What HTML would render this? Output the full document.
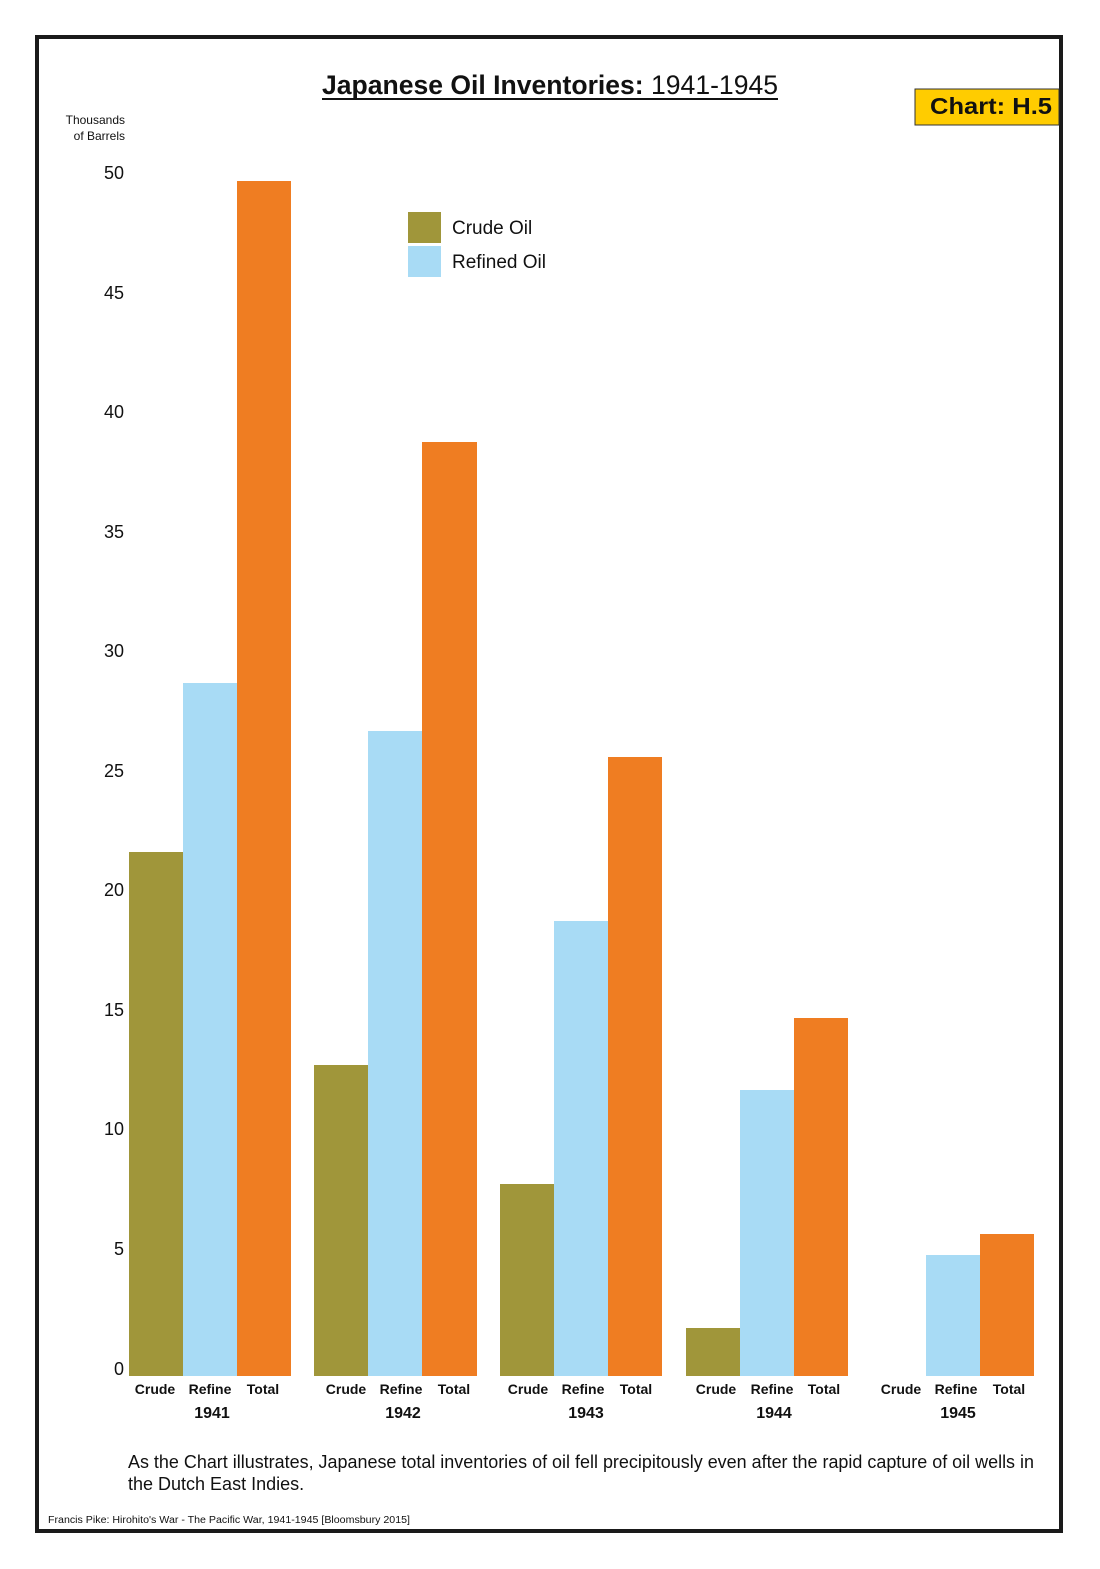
<!DOCTYPE html>
<html><head><meta charset="utf-8"><style>
html,body{margin:0;padding:0;background:#fff}
svg{display:block}
text{font-family:"Liberation Sans",sans-serif;fill:#111}
</style></head><body>
<svg width="1100" height="1569" viewBox="0 0 1100 1569" xmlns="http://www.w3.org/2000/svg">
<rect x="0" y="0" width="1100" height="1569" fill="#fff"/>
<rect x="37" y="37" width="1024" height="1494" fill="none" stroke="#1a1a1a" stroke-width="4"/>
<text x="550" y="94" text-anchor="middle" font-size="27" font-weight="bold" textLength="456" lengthAdjust="spacingAndGlyphs">Japanese Oil Inventories: <tspan font-weight="normal">1941-1945</tspan></text>
<line x1="322" y1="99" x2="778" y2="99" stroke="#111" stroke-width="2"/>
<rect x="915" y="89" width="144" height="36" fill="#FFCC00" stroke="#333" stroke-width="1"/>
<text x="991" y="114" text-anchor="middle" font-size="23" font-weight="bold" textLength="122" lengthAdjust="spacingAndGlyphs">Chart: H.5</text>
<text x="125" y="124" text-anchor="end" font-size="12">Thousands</text>
<text x="125" y="140" text-anchor="end" font-size="12">of Barrels</text>
<g font-size="18" text-anchor="end">
<text x="124" y="179">50</text><text x="124" y="299">45</text><text x="124" y="418">40</text>
<text x="124" y="538">35</text><text x="124" y="657">30</text><text x="124" y="777">25</text>
<text x="124" y="896">20</text><text x="124" y="1016">15</text><text x="124" y="1135">10</text>
<text x="124" y="1255">5</text><text x="124" y="1375">0</text>
</g>
<rect x="408" y="212" width="33" height="31" fill="#A0963A"/>
<rect x="408" y="246" width="33" height="31" fill="#A8DBF5"/>
<text x="452" y="234" font-size="19">Crude Oil</text>
<text x="452" y="268" font-size="19">Refined Oil</text>
<g>
<rect x="129" y="852" width="54" height="524" fill="#A0963A"/>
<rect x="183" y="683" width="54" height="693" fill="#A8DBF5"/>
<rect x="237" y="181" width="54" height="1195" fill="#EF7D22"/>
<rect x="314" y="1065" width="54" height="311" fill="#A0963A"/>
<rect x="368" y="731" width="54" height="645" fill="#A8DBF5"/>
<rect x="422" y="442" width="55" height="934" fill="#EF7D22"/>
<rect x="500" y="1184" width="54" height="192" fill="#A0963A"/>
<rect x="554" y="921" width="54" height="455" fill="#A8DBF5"/>
<rect x="608" y="757" width="54" height="619" fill="#EF7D22"/>
<rect x="686" y="1328" width="54" height="48" fill="#A0963A"/>
<rect x="740" y="1090" width="54" height="286" fill="#A8DBF5"/>
<rect x="794" y="1018" width="54" height="358" fill="#EF7D22"/>
<rect x="926" y="1255" width="54" height="121" fill="#A8DBF5"/>
<rect x="980" y="1234" width="54" height="142" fill="#EF7D22"/>
</g>
<g font-size="14" font-weight="bold" text-anchor="middle">
<text x="155" y="1394">Crude</text><text x="210" y="1394">Refine</text><text x="263" y="1394">Total</text>
<text x="346" y="1394">Crude</text><text x="401" y="1394">Refine</text><text x="454" y="1394">Total</text>
<text x="528" y="1394">Crude</text><text x="583" y="1394">Refine</text><text x="636" y="1394">Total</text>
<text x="716" y="1394">Crude</text><text x="772" y="1394">Refine</text><text x="824" y="1394">Total</text>
<text x="901" y="1394">Crude</text><text x="956" y="1394">Refine</text><text x="1009" y="1394">Total</text>
</g>
<g font-size="16" font-weight="bold" text-anchor="middle">
<text x="212" y="1418">1941</text><text x="403" y="1418">1942</text><text x="586" y="1418">1943</text>
<text x="774" y="1418">1944</text><text x="958" y="1418">1945</text>
</g>
<text x="128" y="1468" font-size="18" textLength="906" lengthAdjust="spacingAndGlyphs">As the Chart illustrates, Japanese total inventories of oil fell precipitously even after the rapid capture of oil wells in</text>
<text x="128" y="1490" font-size="18">the Dutch East Indies.</text>
<text x="48" y="1523" font-size="10" textLength="362" lengthAdjust="spacingAndGlyphs">Francis Pike:  Hirohito's War - The Pacific War, 1941-1945   [Bloomsbury 2015]</text>
</svg>
</body></html>
